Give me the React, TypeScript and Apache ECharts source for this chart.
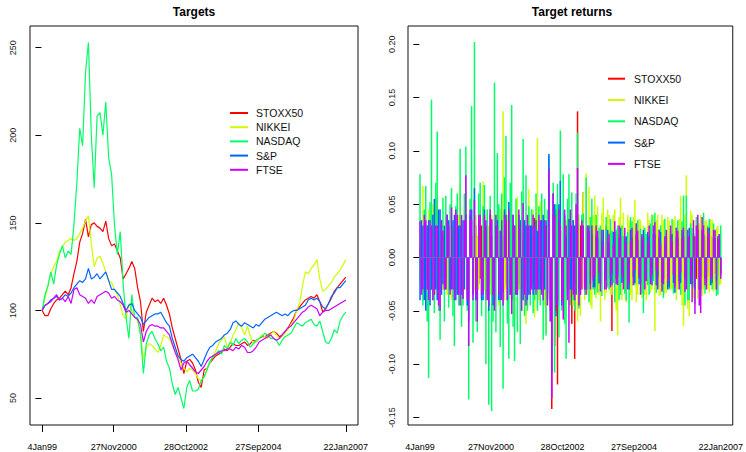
import React, { useEffect, useRef } from "react";
import * as echarts from "echarts";

// ---- axis ticks (weekly index of the dates shown) ----
const dateLabels = ["4Jan99", "27Nov2000", "28Oct2002", "27Sep2004", "22Jan2007"];
const dateWeeks = [1, 100, 200, 300, 421];
const priceTicks = [50, 100, 150, 200, 250];
const returnTicks = [-0.15, -0.1, -0.05, 0, 0.05, 0.1, 0.15, 0.2];

const seriesNames = ["STOXX50", "NIKKEI", "NASDAQ", "S&P", "FTSE"];

// ---- index levels (sampled every 4 weeks, from week 1) ----
const stoxx50 = [
  100, 97, 97, 101, 104, 106, 107, 109, 111, 109,
  113, 121, 128, 139, 144, 152, 142, 149, 150, 148,
  147, 145, 151, 141, 137, 138, 134, 130, 118, 121,
  124, 128, 124, 113, 105, 88, 99, 103, 107, 105,
  106, 104, 107, 103, 98, 90, 84, 78, 72, 64,
  71, 72, 70, 66, 59, 56, 66, 67, 70, 72,
  74, 75, 76, 78, 77, 79, 81, 80, 80, 81,
  82, 80, 81, 83, 82, 84, 85, 85, 86, 87,
  88, 87, 85, 86, 88, 90, 93, 96, 100, 102,
  104, 106, 107, 108, 107, 109, 105, 99, 101, 104,
  107, 111, 113, 115, 117, 119,
];
const nikkei = [
  100, 107, 114, 121, 125, 128, 134, 136, 139, 140,
  141, 140, 141, 144, 147, 151, 154, 138, 125, 130,
  131, 127, 122, 117, 116, 112, 109, 103, 97, 95,
  104, 100, 96, 94, 88, 72, 79, 81, 80, 78,
  76, 80, 86, 85, 84, 80, 77, 73, 70, 67,
  65, 67, 66, 64, 61, 60, 62, 67, 70, 74,
  77, 81, 83, 85, 79, 81, 86, 89, 93, 90,
  86, 91, 85, 81, 82, 84, 86, 85, 84, 86,
  88, 86, 84, 85, 87, 89, 92, 94, 100, 104,
  114, 122, 121, 124, 126, 129, 118, 111, 112, 114,
  116, 119, 121, 123, 126, 129,
];
const nasdaq = [
  100, 109, 114, 122, 115, 126, 132, 137, 130, 134,
  132, 149, 173, 204, 194, 236, 253, 200, 170, 211,
  213, 200, 219, 187, 178, 149, 132, 145, 115, 96,
  84, 109, 96, 96, 86, 64, 81, 86, 88, 84,
  81, 77, 79, 71, 67, 58, 52, 56, 50, 44,
  56, 60, 54, 54, 55, 60, 62, 66, 71, 73,
  75, 77, 75, 80, 78, 82, 80, 84, 81, 83,
  84, 82, 79, 81, 83, 84, 85, 87, 86, 84,
  84, 83, 80, 83, 85, 86, 87, 90, 93, 92,
  91, 93, 94, 95, 92, 91, 94, 88, 82, 81,
  84, 89, 87, 94, 97, 99,
];
const sp = [
  100, 103, 104, 106, 107, 108, 106, 107, 109, 108,
  110, 113, 115, 117, 116, 118, 124, 118, 119, 121,
  118, 120, 122, 117, 112, 112, 110, 108, 104, 100,
  103, 104, 100, 98, 96, 92, 94, 96, 97, 98,
  98, 99, 96, 93, 91, 84, 79, 74, 72, 71,
  73, 74, 75, 73, 71, 68, 72, 76, 79, 80,
  82, 83, 84, 86, 87, 89, 93, 94, 92, 91,
  93, 92, 91, 90, 92, 91, 93, 95, 96, 97,
  98, 99, 98, 97, 98, 97, 99, 100, 100, 101,
  102, 103, 106, 107, 106, 107, 105, 102, 101, 104,
  108, 110, 113, 113, 115, 117,
];
const ftse = [
  100, 103, 104, 105, 107, 109, 106, 107, 105, 108,
  104, 112, 113, 109, 108, 107, 104, 106, 104, 108,
  109, 110, 111, 110, 107, 108, 106, 105, 103, 99,
  100, 98, 96, 95, 92, 82, 88, 91, 92, 91,
  91, 90, 90, 88, 86, 81, 76, 72, 66, 70,
  71, 69, 67, 65, 64, 66, 68, 71, 73, 74,
  75, 76, 77, 77, 78, 78, 77, 79, 78, 80,
  79, 76, 76, 77, 79, 82, 83, 84, 85, 86,
  84, 83, 84, 86, 88, 90, 91, 93, 95, 97,
  99, 100, 102, 103, 102, 101, 97, 99, 100, 100,
  101, 102, 103, 104, 105, 106,
];

// ---- returns, read at weeks 1, 5, 9, ... (A) ----
const stoxx50RetA = [
  0.010, -0.020, 0.020, 0.025, -0.030, 0.030, 0.055, -0.030, 0.020, -0.020,
  0.025, -0.020, 0.030, -0.030, 0.020, -0.038, 0.025, -0.030, 0.020, -0.025,
  0.020, -0.020, 0.025, -0.040, 0.020, 0.020, -0.020, 0.025, -0.020, 0.020,
  -0.025, 0.025, -0.030, 0.020, 0.033, -0.030, 0.020, -0.025, 0.020, 0.037,
  0.037, -0.020, 0.025, -0.020, 0.030, 0.069, -0.142, -0.083, -0.119, 0.025,
  -0.030, 0.020, -0.025, -0.062, -0.095, 0.137, 0.030, 0.061, -0.025, 0.020,
  -0.020, -0.030, 0.020, -0.020, 0.015, 0.030, 0.025, -0.069, 0.020, -0.015,
  0.020, -0.020, 0.015, -0.020, 0.020, -0.015, 0.020, -0.020, 0.015, -0.020,
  0.020, -0.015, 0.020, -0.020, 0.015, -0.020, 0.020, -0.015, 0.015, -0.020,
  0.020, -0.015, 0.015, -0.022, 0.020, -0.015, 0.020, -0.020, 0.015, -0.020,
  0.015, -0.015, 0.020, -0.015, 0.015, -0.015,
];
const nikkeiRetA = [
  -0.020, 0.067, -0.030, 0.045, -0.020, 0.030, -0.025, 0.020, -0.030, 0.040,
  -0.020, -0.040, 0.035, -0.030, 0.068, -0.020, 0.030, -0.040, 0.025, -0.030,
  0.020, 0.045, 0.071, -0.030, 0.030, 0.040, -0.030, 0.030, 0.045, 0.137,
  -0.030, 0.035, -0.040, -0.058, 0.057, 0.030, -0.040, -0.062, 0.064, -0.030,
  -0.056, 0.112, 0.052, 0.035, -0.070, 0.030, -0.040, 0.030, -0.035, 0.030,
  -0.040, 0.035, -0.030, 0.030, -0.035, -0.060, -0.055, 0.061, 0.079, 0.066,
  -0.048, 0.058, 0.048, -0.060, 0.056, -0.033, 0.040, -0.035, 0.045, -0.073,
  0.056, 0.042, -0.042, 0.035, -0.040, 0.054, -0.035, 0.035, 0.030, -0.040,
  0.035, -0.030, -0.069, 0.040, -0.035, 0.035, -0.033, 0.035, -0.030, 0.039,
  -0.030, 0.058, -0.064, 0.077, -0.055, 0.040, -0.035, -0.039, 0.040, -0.030,
  0.035, -0.033, 0.035, -0.030, 0.030, -0.025,
];
const nasdaqRetA = [
  0.078, -0.045, 0.067, -0.113, 0.148, -0.052, 0.118, -0.077, 0.056, 0.058,
  -0.047, 0.065, -0.083, 0.060, 0.102, -0.045, 0.104, -0.133, 0.142, 0.202,
  -0.070, 0.070, 0.048, -0.100, -0.138, -0.144, 0.164, 0.098, -0.084, -0.123,
  0.114, -0.095, 0.143, -0.097, -0.070, -0.081, 0.111, 0.077, 0.048, 0.045,
  -0.040, -0.050, -0.045, -0.077, -0.073, 0.095, -0.090, -0.108, 0.069, 0.119,
  0.078, -0.095, 0.078, 0.061, -0.050, 0.117, -0.033, 0.041, 0.075, -0.042,
  0.055, -0.035, -0.033, 0.030, 0.023, 0.038, -0.030, 0.025, -0.042, 0.030,
  -0.035, 0.020, -0.040, -0.061, 0.034, -0.026, 0.035, 0.027, -0.052, 0.022,
  -0.035, 0.040, 0.042, -0.028, 0.030, -0.038, 0.025, -0.030, 0.036, -0.024,
  0.035, -0.035, 0.058, 0.058, -0.040, 0.028, -0.044, 0.030, -0.035, 0.042,
  -0.028, 0.036, -0.030, 0.025, -0.035, 0.030,
];
const spRetA = [
  -0.040, 0.030, -0.050, 0.035, -0.030, 0.055, -0.040, 0.045, -0.025, -0.030,
  0.035, -0.030, 0.040, -0.035, 0.030, 0.035, 0.040, -0.060, 0.045, 0.065,
  -0.040, 0.030, -0.040, 0.030, -0.050, 0.035, -0.040, 0.035, -0.040, -0.033,
  0.040, 0.052, -0.040, 0.030, -0.030, 0.035, -0.040, 0.030, -0.035, 0.030,
  -0.030, 0.025, -0.030, 0.040, 0.035, 0.097, -0.107, 0.050, -0.040, 0.072,
  -0.035, 0.020, 0.036, -0.030, 0.030, 0.040, -0.035, 0.025, -0.030, 0.030,
  0.022, -0.028, 0.018, -0.025, 0.026, -0.020, 0.015, -0.026, 0.024, -0.018,
  0.028, -0.022, 0.020, -0.030, 0.018, -0.024, 0.016, -0.025, 0.026, -0.014,
  0.020, -0.026, 0.022, -0.018, 0.024, -0.020, 0.018, -0.028, 0.022, -0.033,
  0.018, -0.024, 0.020, -0.022, 0.028, -0.025, -0.030, 0.026, -0.030, 0.022,
  -0.022, 0.028, -0.024, 0.018, 0.020, -0.016,
];
const ftseRetA = [
  0.034, -0.030, 0.035, -0.040, 0.030, -0.035, 0.030, -0.050, 0.025, -0.030,
  0.030, 0.047, -0.040, 0.040, -0.045, -0.039, 0.077, -0.083, 0.035, 0.054,
  -0.060, 0.040, -0.035, 0.035, -0.045, 0.036, -0.050, 0.030, 0.025, -0.045,
  0.035, 0.045, -0.053, 0.030, -0.035, 0.030, 0.051, -0.045, 0.030, -0.030,
  0.030, -0.030, 0.035, -0.040, 0.030, 0.083, -0.132, 0.040, -0.045, 0.030,
  -0.058, 0.030, -0.080, 0.030, -0.040, 0.084, -0.035, 0.030, -0.035, 0.025,
  0.030, -0.018, 0.025, -0.032, 0.012, -0.030, 0.022, -0.015, 0.034, -0.026,
  0.020, -0.030, 0.014, -0.024, 0.028, -0.012, 0.025, -0.035, 0.018, -0.022,
  0.030, -0.016, 0.033, -0.030, 0.012, -0.025, 0.026, -0.020, 0.015, -0.028,
  0.025, -0.014, 0.028, -0.030, 0.020, -0.042, -0.053, 0.040, -0.052, 0.030,
  -0.030, 0.022, -0.018, 0.026, 0.017, -0.020,
];

// ---- returns, read at weeks 3, 7, 11, ... (B) ----
const stoxx50RetB = [
  -0.025, 0.030, -0.020, -0.030, 0.025, -0.030, -0.025, 0.030, -0.020, 0.025,
  -0.030, 0.025, -0.025, 0.030, -0.030, 0.025, -0.030, 0.030, -0.025, 0.030,
  -0.025, 0.030, -0.030, 0.025, -0.025, -0.030, 0.030, -0.025, 0.030, -0.030,
  0.030, -0.025, 0.030, -0.030, -0.025, 0.030, -0.030, 0.025, -0.030, -0.025,
  -0.030, 0.030, -0.025, 0.030, -0.035, -0.040, 0.040, 0.045, 0.035, -0.030,
  0.035, -0.030, 0.030, 0.035, 0.040, -0.045, -0.030, -0.025, 0.030, -0.025,
  0.025, 0.022, -0.025, 0.020, -0.022, -0.020, -0.025, 0.025, -0.020, 0.022,
  -0.020, 0.018, -0.022, 0.020, -0.018, 0.022, -0.020, 0.020, -0.022, 0.018,
  -0.020, 0.022, -0.018, 0.020, -0.022, 0.020, -0.018, 0.022, -0.020, 0.020,
  -0.018, 0.022, -0.020, 0.018, -0.022, 0.020, -0.020, 0.022, -0.018, 0.020,
  -0.018, 0.020, -0.020, 0.018, -0.016,
];
const nikkeiRetB = [
  0.035, -0.040, 0.030, -0.030, 0.050, -0.035, 0.040, -0.030, 0.025, -0.035,
  0.030, 0.025, -0.030, 0.040, -0.035, 0.045, -0.030, 0.030, -0.035, 0.040,
  -0.030, -0.035, -0.030, 0.045, -0.035, -0.030, 0.040, -0.045, -0.030, -0.040,
  0.040, -0.035, 0.030, 0.040, -0.030, -0.040, 0.035, 0.040, -0.035, 0.045,
  0.035, -0.040, -0.030, -0.045, 0.040, -0.030, 0.035, -0.035, 0.030, -0.040,
  0.030, -0.030, 0.040, -0.045, 0.050, 0.040, 0.035, -0.040, -0.035, -0.045,
  0.040, -0.038, -0.035, 0.042, -0.040, 0.045, -0.035, 0.040, -0.050, 0.038,
  -0.040, -0.033, 0.040, -0.035, 0.038, -0.042, 0.036, -0.038, -0.035, 0.042,
  -0.033, 0.040, 0.035, -0.036, 0.040, -0.034, 0.038, -0.030, 0.035, -0.040,
  0.036, -0.045, 0.040, -0.048, 0.044, -0.038, 0.035, 0.032, -0.036, 0.034,
  -0.030, 0.036, -0.032, 0.028, -0.026,
];
const nasdaqRetB = [
  -0.030, 0.045, -0.060, 0.052, -0.040, 0.070, -0.050, 0.035, -0.060, 0.040,
  0.050, -0.055, 0.048, -0.045, -0.065, 0.060, -0.050, 0.055, -0.080, -0.060,
  0.060, -0.055, 0.068, 0.045, 0.058, -0.060, -0.070, 0.050, 0.060, 0.075,
  -0.062, 0.070, -0.065, 0.055, 0.040, 0.062, -0.055, -0.050, -0.045, -0.052,
  0.060, 0.048, 0.060, 0.055, 0.045, -0.060, 0.070, 0.050, -0.075, -0.050,
  -0.062, 0.055, -0.045, -0.040, 0.060, -0.048, 0.040, -0.035, -0.030, 0.038,
  -0.030, 0.040, 0.028, -0.036, -0.022, -0.028, 0.036, -0.024, 0.026, -0.040,
  0.030, -0.034, 0.024, 0.038, -0.026, 0.030, -0.020, -0.034, 0.028, -0.026,
  0.032, -0.022, -0.033, 0.026, -0.030, 0.036, -0.022, 0.025, -0.034, 0.028,
  -0.026, 0.034, -0.045, -0.040, 0.032, -0.028, 0.038, -0.030, 0.024, -0.034,
  0.030, -0.026, 0.032, -0.036, 0.022,
];
const spRetB = [
  0.035, -0.040, 0.030, -0.045, 0.040, -0.030, 0.045, -0.035, 0.030, 0.040,
  -0.030, 0.035, -0.040, 0.030, -0.035, -0.030, -0.045, 0.040, -0.035, -0.040,
  0.035, -0.040, 0.045, -0.035, 0.040, -0.045, 0.030, -0.040, 0.035, 0.045,
  -0.040, -0.035, 0.040, -0.035, 0.040, -0.030, 0.035, -0.040, 0.030, -0.035,
  0.035, -0.030, 0.035, -0.030, -0.040, -0.050, 0.060, -0.055, 0.050, -0.045,
  0.040, -0.035, -0.030, 0.035, -0.035, -0.030, 0.030, -0.030, 0.028, -0.025,
  -0.028, 0.020, -0.024, 0.016, -0.022, 0.026, -0.018, 0.024, -0.020, 0.018,
  -0.024, 0.018, -0.020, 0.026, -0.018, 0.022, -0.025, 0.016, -0.022, 0.024,
  -0.018, 0.022, -0.026, 0.018, -0.024, 0.015, -0.030, 0.020, -0.024, 0.018,
  -0.022, 0.026, -0.020, 0.018, -0.025, 0.022, 0.020, -0.030, 0.026, -0.020,
  0.020, -0.026, 0.018, -0.022, 0.016,
];
const ftseRetB = [
  -0.035, 0.040, -0.030, 0.035, -0.040, 0.030, -0.045, 0.035, -0.030, 0.040,
  -0.035, -0.030, 0.045, -0.035, 0.040, 0.035, -0.040, 0.045, -0.040, -0.035,
  0.040, -0.035, 0.040, -0.040, 0.045, -0.035, 0.040, -0.035, -0.040, 0.040,
  -0.040, -0.035, 0.040, -0.035, 0.045, -0.050, -0.035, 0.040, -0.035, 0.040,
  -0.035, 0.040, -0.035, 0.035, -0.045, -0.060, 0.060, -0.050, 0.045, -0.040,
  0.045, -0.040, 0.045, -0.035, 0.050, -0.045, 0.035, -0.030, 0.030, -0.030,
  -0.022, 0.030, -0.014, 0.026, -0.030, 0.018, -0.028, 0.012, -0.025, 0.030,
  -0.016, 0.028, -0.030, 0.015, -0.026, 0.032, -0.018, 0.022, -0.030, 0.014,
  -0.025, 0.030, -0.012, 0.026, -0.032, 0.020, -0.024, 0.030, -0.016, 0.028,
  -0.030, 0.018, -0.032, 0.026, -0.020, 0.035, 0.030, -0.045, 0.038, -0.026,
  0.028, -0.020, 0.026, -0.030, 0.022,
];

const priceData = [stoxx50, nikkei, nasdaq, sp, ftse];
const returnDataA = [stoxx50RetA, nikkeiRetA, nasdaqRetA, spRetA, ftseRetA];
const returnDataB = [stoxx50RetB, nikkeiRetB, nasdaqRetB, spRetB, ftseRetB];

// styles
const COLORS = ["#FF0000", "#CCFF00", "#00FF66", "#0066FF", "#CC00FF"];
const FONT = "'Liberation Sans', Arial, Helvetica, sans-serif";

export default function App() {
  const ref = useRef<HTMLDivElement>(null);

  useEffect(() => {
    if (!ref.current) return;
    const chart = echarts.init(ref.current, undefined, { renderer: "svg" });

    const weekA = (i: number) => 1 + 4 * i;
    const weekB = (i: number) => 3 + 4 * i;

    const xAxisBase = (gridIndex: number) => ({
      type: "value",
      gridIndex,
      min: -15.8,
      max: 437.8,
      splitLine: { show: false },
      axisLine: { show: false },
      axisTick: {
        show: true,
        length: 7,
        customValues: dateWeeks,
        lineStyle: { color: "#000", width: 1 },
      },
      axisLabel: {
        customValues: dateWeeks,
        formatter: (v: number) => dateLabels[dateWeeks.indexOf(v)] ?? "",
        fontSize: 9,
        color: "#000",
        margin: 17,
        hideOverlap: false,
        fontFamily: FONT,
      },
    });

    const legendGraphics = (x0: number, y0: number, step: number, lineLen: number, textGap: number) =>
      seriesNames.flatMap((name, k) => [
        {
          type: "line",
          shape: { x1: x0, y1: y0 + step * k, x2: x0 + lineLen, y2: y0 + step * k },
          style: { stroke: COLORS[k], lineWidth: 2 },
          silent: true,
        },
        {
          type: "text",
          x: x0 + lineLen + textGap,
          y: y0 + step * k,
          style: {
            text: name,
            fontSize: 10.5,
            fontFamily: FONT,
            fill: "#111",
            verticalAlign: "middle",
            align: "left",
          },
          silent: true,
        },
      ]);

    const option: any = {
      animation: false,
      backgroundColor: "#fff",
      textStyle: { fontFamily: FONT },
      title: [
        {
          text: "Targets",
          left: 194,
          top: 6,
          textAlign: "center",
          padding: 0,
          textStyle: { fontSize: 12, fontWeight: "bold", color: "#000", fontFamily: FONT },
        },
        {
          text: "Target returns",
          left: 572,
          top: 6,
          textAlign: "center",
          padding: 0,
          textStyle: { fontSize: 12, fontWeight: "bold", color: "#000", fontFamily: FONT },
        },
      ],
      grid: [
        { left: 30, top: 26, width: 328, height: 399, show: true, borderColor: "#111", borderWidth: 1, backgroundColor: "transparent" },
        { left: 408, top: 26, width: 328, height: 399, show: true, borderColor: "#111", borderWidth: 1, backgroundColor: "transparent" },
      ],
      xAxis: [xAxisBase(0), xAxisBase(1)],
      yAxis: [
        {
          type: "value",
          gridIndex: 0,
          min: 34.6,
          max: 262.4,
          splitLine: { show: false },
          axisLine: { show: false },
          axisTick: { show: true, length: 6, customValues: priceTicks, lineStyle: { color: "#000" } },
          axisLabel: {
            customValues: priceTicks,
            rotate: 90,
            fontSize: 9,
            color: "#222",
            margin: 13,
            fontFamily: FONT,
            formatter: (v: number) => String(v),
          },
        },
        {
          type: "value",
          gridIndex: 1,
          min: -0.157,
          max: 0.217,
          splitLine: { show: false },
          axisLine: { show: false },
          axisTick: { show: true, length: 6, customValues: returnTicks, lineStyle: { color: "#000" } },
          axisLabel: {
            customValues: returnTicks,
            rotate: 90,
            fontSize: 9,
            color: "#222",
            margin: 12,
            fontFamily: FONT,
            formatter: (v: number) => v.toFixed(2),
          },
        },
      ],
      series: [
        ...priceData.map((arr, k) => ({
          type: "line",
          name: seriesNames[k],
          xAxisIndex: 0,
          yAxisIndex: 0,
          showSymbol: false,
          symbol: "none",
          lineStyle: { color: COLORS[k], width: 1.2 },
          itemStyle: { color: COLORS[k] },
          data: arr.map((v, i) => [weekA(i), v]),
          z: 2 + k,
        })),
        ...returnDataA.map((arrA, k) => ({
          type: "bar",
          name: seriesNames[k],
          xAxisIndex: 1,
          yAxisIndex: 1,
          barWidth: 1.5,
          barGap: "-100%",
          itemStyle: { color: COLORS[k] },
          data: [
            ...arrA.map((v, i) => [weekA(i), v]),
            ...returnDataB[k].map((v, i) => [weekB(i), v]),
          ],
          z: 2 + k,
        })),
      ],
      graphic: [
        ...legendGraphics(230, 113, 14.2, 18, 8),
        ...legendGraphics(608, 78.7, 21.3, 17, 9),
      ],
    };

    chart.setOption(option);
    return () => chart.dispose();
  }, []);

  return (
    <div
      ref={ref}
      style={{ position: "absolute", left: 0, top: 0, width: 746, height: 452, background: "#fff" }}
    />
  );
}
